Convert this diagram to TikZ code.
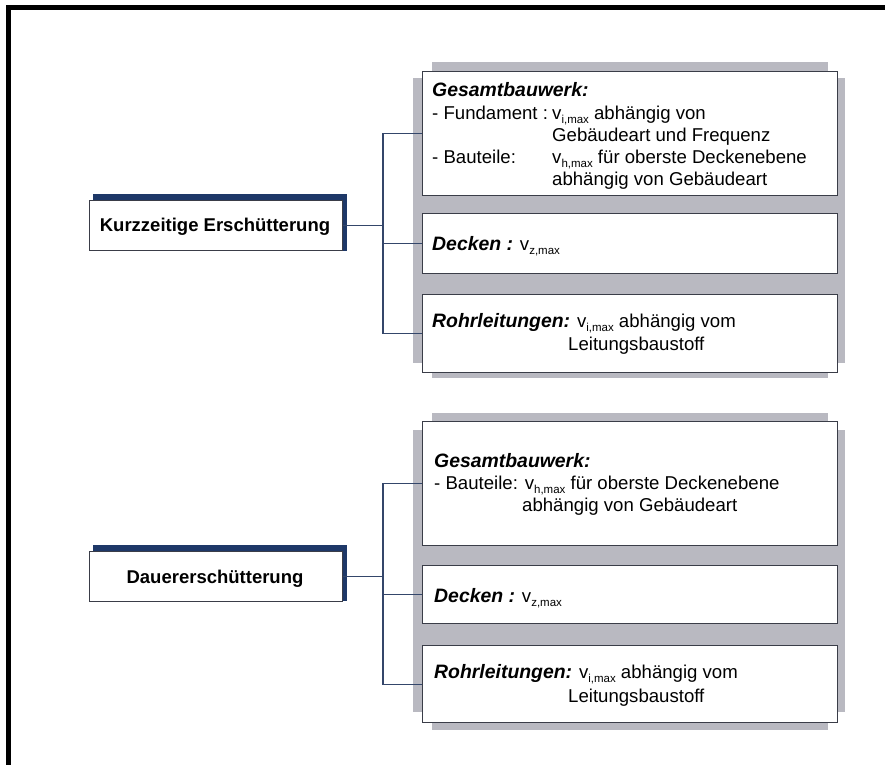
\documentclass[tikz,border=0pt]{standalone}
\usepackage{fontspec}
\setmainfont{Liberation Sans}
\definecolor{panelgray}{HTML}{B9B9C1}
\definecolor{boxline}{HTML}{3A3D48}
\definecolor{navy}{HTML}{1E3868}
\definecolor{connblue}{HTML}{34466A}
\newcommand\sbs[1]{\raisebox{-4pt}{\fontsize{11.5}{12}\selectfont #1}}
\newcommand\hd[1]{{\fontsize{19.4}{21}\selectfont\textbf{\textit{#1}}}}
\tikzset{
  itembox/.style={draw=boxline, line width=1.4pt, fill=white, rectangle, anchor=north west, inner sep=0pt},
  mainbox/.style={draw=boxline, line width=1.2pt, fill=white, rectangle, anchor=north west, inner sep=0pt},
  txt/.style={anchor=base west, inner sep=0pt, font=\fontsize{18.6}{21}\selectfont},
  maintxt/.style={anchor=base, inner sep=0pt, font=\fontsize{18.5}{21}\selectfont\bfseries},
  conn/.style={draw=connblue, line width=1.3pt},
  panel/.style={fill=panelgray},
  shadowfill/.style={fill=navy}
}
\begin{document}
\begin{tikzpicture}[x=1pt,y=-1pt]
\useasboundingbox (0,0) rectangle (885,765);
% outer frame (top and left edges)
\fill[black] (6,5) rectangle (885,10);
\fill[black] (6,5) rectangle (11,765);

% ---------- group 1 ----------
\fill[panel] (413,78) rectangle (845,363);
\fill[panel] (432,62) rectangle (828,378);
\node[itembox, minimum width=415pt, minimum height=124pt] (g1) at (422,71) {};
\node[itembox, minimum width=415pt, minimum height=60pt] (g2) at (422,213) {};
\node[itembox, minimum width=415pt, minimum height=78pt] (g3) at (422,294) {};

\node[txt] (g1a) at (432,96) {\hd{Gesamtbauwerk:}};
\node[txt] (g1b) at (432,119) {- Fundament :};
\node[txt] (g1c) at (552,119) {v\sbs{i,max} abhängig von};
\node[txt] (g1d) at (552,141) {Gebäudeart und Frequenz};
\node[txt] (g1e) at (432,163) {- Bauteile:};
\node[txt] (g1f) at (552,163) {v\sbs{h,max} für oberste Deckenebene};
\node[txt] (g1g) at (552,185) {abhängig von Gebäudeart};

\node[txt] (g2a) at (432,250) {\hd{Decken :} v\sbs{z,max}};

\node[txt] (g3a) at (432,327) {\hd{Rohrleitungen:} v\sbs{i,max} abhängig vom};
\node[txt] (g3b) at (568,350) {Leitungsbaustoff};

\fill[shadowfill] (93,194) rectangle (347,251);
\node[mainbox, minimum width=253pt, minimum height=50pt] (k1) at (89,200) {};
\node[maintxt] (k1t) at (215,231) {Kurzzeitige Erschütterung};

\coordinate (bx1) at (383,0);
\draw[conn] (g1.west) -- (g1.west -| bx1) -- (g3.west -| bx1) -- (g3.west);
\draw[conn] (g2.west) -- (g2.west -| bx1);
\draw[conn] (k1.east) -- (k1.east -| bx1);

% ---------- group 2 ----------
\fill[panel] (413,430) rectangle (845,712);
\fill[panel] (432,413) rectangle (828,730);
\node[itembox, minimum width=415pt, minimum height=124pt] (h1) at (422,421) {};
\node[itembox, minimum width=415pt, minimum height=58pt] (h2) at (422,565) {};
\node[itembox, minimum width=415pt, minimum height=77pt] (h3) at (422,645) {};

\node[txt] (h1a) at (434,467) {\hd{Gesamtbauwerk:}};
\node[txt] (h1b) at (434,489) {- Bauteile: v\sbs{h,max} für oberste Deckenebene};
\node[txt] (h1c) at (522,511) {abhängig von Gebäudeart};

\node[txt] (h2a) at (434,602) {\hd{Decken :} v\sbs{z,max}};

\node[txt] (h3a) at (434,678) {\hd{Rohrleitungen:} v\sbs{i,max} abhängig vom};
\node[txt] (h3b) at (568,702) {Leitungsbaustoff};

\fill[shadowfill] (93,545) rectangle (347,601);
\node[mainbox, minimum width=253pt, minimum height=50pt] (k2) at (89,551) {};
\node[maintxt] (k2t) at (215,583) {Dauererschütterung};

\coordinate (bx2) at (383,0);
\draw[conn] (h1.west) -- (h1.west -| bx2) -- (h3.west -| bx2) -- (h3.west);
\draw[conn] (h2.west) -- (h2.west -| bx2);
\draw[conn] (k2.east) -- (k2.east -| bx2);
\end{tikzpicture}
\end{document}
